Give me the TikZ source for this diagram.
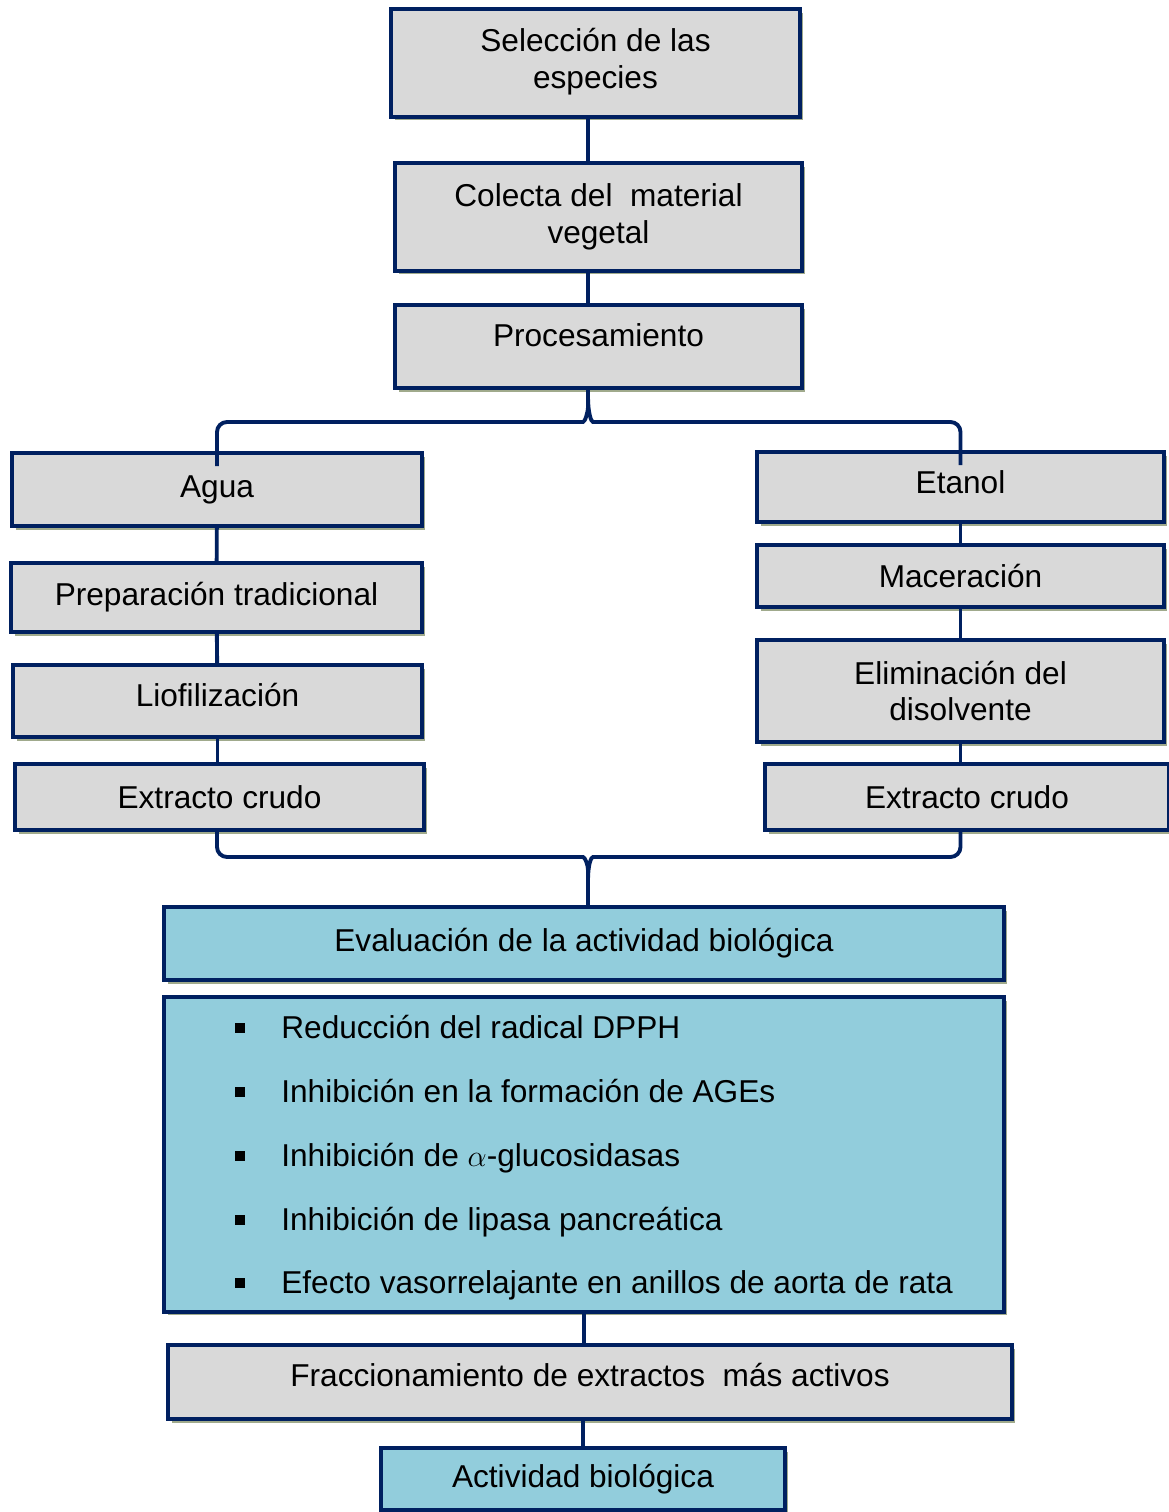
\documentclass[tikz,border=0pt]{standalone}
\usepackage{fontspec}
\setmainfont{Liberation Sans}
\usetikzlibrary{shadows}
\definecolor{navy}{HTML}{002060}
\definecolor{boxgray}{HTML}{D9D9D9}
\definecolor{boxblue}{HTML}{92CDDC}
\definecolor{shadowgreen}{RGB}{160,170,140}
\newcommand{\sqbullet}{\raisebox{0.11cm}{\rule{0.2cm}{0.2cm}}\hspace{0.72cm}}
\begin{document}
\begin{tikzpicture}[x=0.02cm,y=-0.02cm,every node/.style={font=\fontsize{18}{21}\selectfont},
  stepbox/.style={draw=navy,line width=2.2pt,fill=boxgray,align=center,inner sep=0pt,
    drop shadow={shadow xshift=0.07cm,shadow yshift=-0.07cm,fill=shadowgreen,opacity=1}},
  evalbox/.style={stepbox,fill=boxblue},
  link/.style={draw=navy,line width=2.2pt}]
\useasboundingbox (0,0) rectangle (1169,1512);
% upper chain
\node[stepbox,minimum width=8.18cm,minimum height=2.16cm] (sel) at (595.5,63) {\raisebox{0.08cm}{\begin{tabular}{@{}c@{}}Selección de las\\especies\end{tabular}}};
\node[stepbox,minimum width=8.14cm,minimum height=2.16cm] (col) at (598.5,217) {Colecta del\ \ material\\vegetal};
\node[stepbox,minimum width=8.14cm,minimum height=1.66cm] (proc) at (598.5,346.5) {\raisebox{0.44cm}{Procesamiento}};
\coordinate (topbar) at (588,422);
\coordinate (botbar) at (588,857);
% water branch
\node[stepbox,minimum width=8.20cm,minimum height=1.46cm] (agua) at (217,489.5) {\raisebox{0.12cm}{Agua}};
\node[stepbox,minimum width=8.22cm,minimum height=1.38cm] (prep) at (216.5,597.5) {\raisebox{0.06cm}{Preparación tradicional}};
\node[stepbox,minimum width=8.18cm,minimum height=1.44cm] (lio) at (217.5,701) {\raisebox{0.24cm}{Liofilización}};
\node[stepbox,minimum width=8.18cm,minimum height=1.32cm] (xleft) at (219.5,797) {Extracto crudo};
% ethanol branch
\node[stepbox,minimum width=8.14cm,minimum height=1.40cm] (etanol) at (960.5,487) {\raisebox{0.2cm}{Etanol}};
\node[stepbox,minimum width=8.14cm,minimum height=1.24cm] (mac) at (960.5,576) {Maceración};
\node[stepbox,minimum width=8.14cm,minimum height=2.04cm] (elim) at (960.5,691) {Eliminación del\\disolvente};
\node[stepbox,minimum width=8.08cm,minimum height=1.32cm] (xright) at (967,797) {Extracto crudo};
% evaluation
\node[evalbox,minimum width=16.80cm,minimum height=1.46cm] (evalhead) at (584,943.5) {\raisebox{0.12cm}{Evaluación de la actividad biológica}};
\node[evalbox,minimum width=16.80cm,minimum height=6.30cm] (evallist) at (584,1154.5) {};
\node[anchor=west,align=left,inner sep=0pt] (items) at (235,1158) {\sqbullet Reducción del radical DPPH\\[15.3pt]
  \sqbullet Inhibición en la formación de AGEs\\[15.3pt]
  \sqbullet Inhibición de $\alpha$-glucosidasas\\[15.3pt]
  \sqbullet Inhibición de lipasa pancreática\\[15.3pt]
  \sqbullet Efecto vasorrelajante en anillos de aorta de rata};
\node[stepbox,minimum width=16.88cm,minimum height=1.48cm] (fracc) at (590,1382) {\raisebox{0.28cm}{Fraccionamiento de extractos\ \ más activos}};
\node[evalbox,minimum width=8.08cm,minimum height=1.24cm] (act) at (583,1479) {Actividad biológica};
% connectors
\draw[link] (sel.south -| topbar) -- (col.north -| topbar);
\draw[link] (col.south -| topbar) -- (proc.north -| topbar);
\draw[link,rounded corners=0.2cm] ([yshift=-0.3cm]agua.north) |- ([xshift=-0.3cm]topbar) .. controls +(0.24cm,0) and +(0,-0.3cm) .. ([yshift=0.5cm]topbar) -- (proc.south -| topbar);
\draw[link,rounded corners=0.2cm] ([yshift=-0.3cm]etanol.north) |- ([xshift=0.3cm]topbar) .. controls +(-0.24cm,0) and +(0,-0.3cm) .. ([yshift=0.5cm]topbar);
\draw[link] (agua) -- (prep);
\draw[link] (prep) -- (lio);
\draw[link] (lio.south) -- (xleft.north -| lio.south);
\draw[link] (etanol) -- (mac);
\draw[link] (mac) -- (elim);
\draw[link] (elim.south) -- (xright.north -| elim.south);
\draw[link,rounded corners=0.2cm] (xleft.south -| agua.south) |- ([xshift=-0.3cm]botbar) .. controls +(0.24cm,0) and +(0,0.3cm) .. ([yshift=-0.46cm]botbar) -- (evalhead.north -| botbar);
\draw[link,rounded corners=0.2cm] (xright.south -| etanol.south) |- ([xshift=0.3cm]botbar) .. controls +(-0.24cm,0) and +(0,0.3cm) .. ([yshift=-0.46cm]botbar);
\draw[link] (evallist.south) -- (fracc.north -| evallist.south);
\draw[link] (fracc.south -| act.north) -- (act.north);
\end{tikzpicture}
\end{document}
